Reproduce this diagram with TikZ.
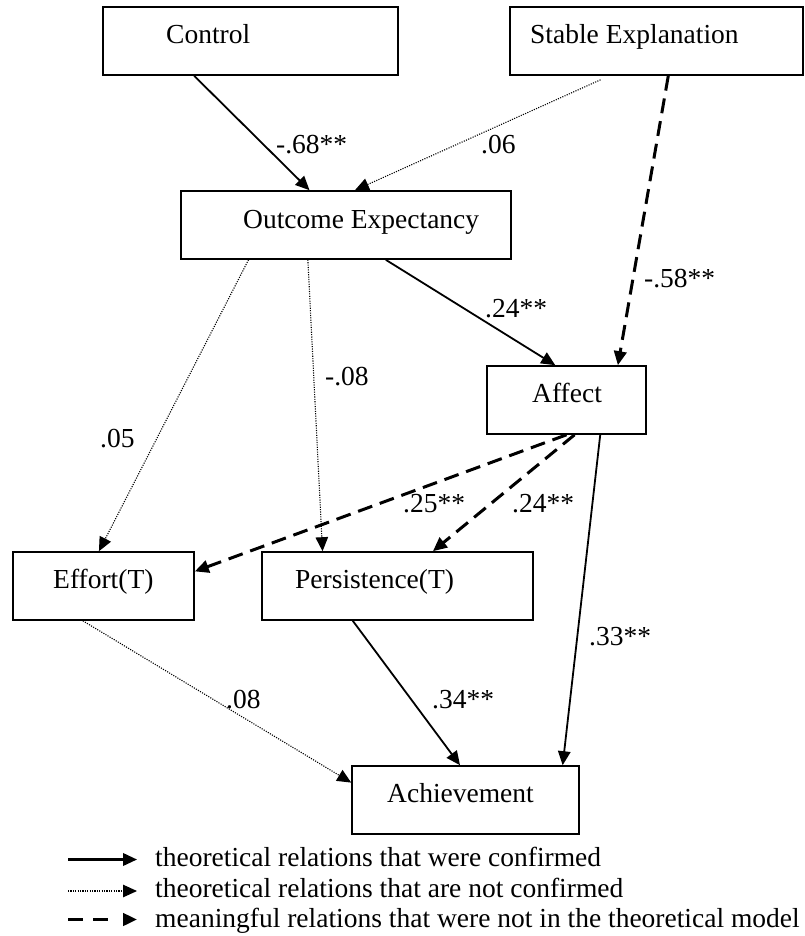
\documentclass[tikz,border=0pt]{standalone}
\usepackage{fontspec}
\setmainfont{Liberation Serif}
\usetikzlibrary{arrows.meta,calc}
\tikzset{
  box/.style={draw, line width=1.6pt, inner sep=0pt, minimum height=68pt},
  txt/.style={anchor=base west, inner sep=0pt, font=\fontsize{27.5}{33}\selectfont},
  tip/.style={-{Triangle[length=14pt,width=12.5pt]}},
  conf/.style={tip, line width=1.8pt},
  notconf/.style={tip, line width=1.1pt, dash pattern=on 1.1pt off 1.3pt},
  newrel/.style={tip, line width=3pt, dash pattern=on 15pt off 8pt},
}
\begin{document}
\begin{tikzpicture}[x=1pt,y=-1pt]
\useasboundingbox (0,0) rectangle (804,936);
% boxes
\node[box, minimum width=295pt] (ctrl) at (250.5,41) {};
\node[box, minimum width=293pt] (stab) at (656.5,41) {};
\node[box, minimum width=330pt] (outc) at (346,225) {};
\node[box, minimum width=159pt] (aff)  at (566.5,400) {};
\node[box, minimum width=181pt] (eff)  at (103.5,586) {};
\node[box, minimum width=271pt] (pers) at (397.5,586) {};
\node[box, minimum width=227pt] (ach)  at (465.5,800) {};
% box texts
\node[txt] (tctrl) at (166,44) {Control};
\node[txt] (tstab) at (530,44) {Stable Explanation};
\node[txt] (toutc) at (243,228) {Outcome Expectancy};
\node[txt] (taff)  at (532,402) {Affect};
\node[txt] (teff)  at (53,588) {Effort(T)};
\node[txt] (tpers) at (295,588) {Persistence(T)};
\node[txt] (tach)  at (387,802) {Achievement};
% connectors
\draw[conf] ($(ctrl.south west)!0.31!(ctrl.south east)$) -- ($(outc.north west)!0.39!(outc.north east)$);
\draw[notconf] ([yshift=-4pt]$(stab.south west)!0.31!(stab.south east)$) -- ($(outc.north west)!0.527!(outc.north east)$);
\draw[newrel] ($(stab.south west)!0.54!(stab.south east)$) -- ($(aff.north west)!0.82!(aff.north east)$);
\draw[conf] ($(outc.south west)!0.62!(outc.south east)$) -- ($(aff.north west)!0.43!(aff.north east)$);
\draw[notconf] ($(outc.south west)!0.206!(outc.south east)$) -- ($(eff.north west)!0.475!(eff.north east)$);
\draw[notconf] ($(outc.south west)!0.385!(outc.south east)$) -- ($(pers.north west)!0.225!(pers.north east)$);
\draw[newrel] ($(aff.south west)!0.50!(aff.south east)$) -- ($(eff.north east)!0.29!(eff.south east)$);
\draw[newrel] ($(aff.south west)!0.55!(aff.south east)$) -- ($(pers.north west)!0.63!(pers.north east)$);
\draw[conf] ($(aff.south west)!0.71!(aff.south east)$) -- ($(ach.north west)!0.925!(ach.north east)$);
\draw[conf] ($(pers.south west)!0.336!(pers.south east)$) -- ($(ach.north west)!0.476!(ach.north east)$);
\draw[notconf] ($(eff.south west)!0.387!(eff.south east)$) -- ($(ach.north west)!0.25!(ach.south west)$);
% labels
\node[txt] (l1) at (276,154) {-.68**};
\node[txt] (l2) at (481,154) {.06};
\node[txt] (l3) at (644,287) {-.58**};
\node[txt] (l4) at (485,317) {.24**};
\node[txt] (l5) at (325,385) {-.08};
\node[txt] (l6) at (100,447) {.05};
\node[txt] (l7) at (403,512) {.25**};
\node[txt] (l8) at (512,512) {.24**};
\node[txt] (l9) at (589,645) {.33**};
\node[txt] (l10) at (432,708) {.34**};
\node[txt] (l11) at (226,708) {.08};
% legend
\coordinate (g1a) at (68,859.5);
\coordinate (g1b) at (137,859.5);
\coordinate (g2a) at (68,891);
\coordinate (g2b) at (137,891);
\coordinate (g3a) at (68,919.5);
\coordinate (g3b) at (137,919.5);
\draw[conf, line width=2.2pt] (g1a) -- (g1b);
\draw[notconf] (g2a) -- (g2b);
\draw[tip, line width=3pt, dash pattern=on 15pt off 10pt on 15pt off 100pt] (g3a) -- (g3b);
\node[txt] (gt1) at (155,866) {theoretical relations that were confirmed};
\node[txt] (gt2) at (155,897) {theoretical relations that are not confirmed};
\node[txt] (gt3) at (155,927) {meaningful relations that were not in the theoretical model};
\end{tikzpicture}
\end{document}
